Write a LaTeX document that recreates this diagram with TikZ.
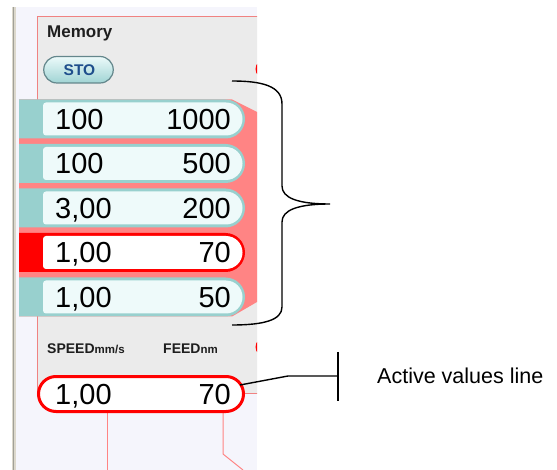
\documentclass[tikz,border=0pt]{standalone}
\usepackage{fontspec}
\setmainfont{Liberation Sans}
\definecolor{winbg}{RGB}{245,245,252}
\definecolor{framebg}{RGB}{220,216,204}
\definecolor{frameline}{RGB}{160,160,152}
\definecolor{panelgray}{RGB}{235,235,235}
\definecolor{panelborder}{RGB}{240,130,130}
\definecolor{rowpink}{RGB}{255,132,132}
\definecolor{rowteal}{RGB}{152,208,206}
\definecolor{rowinner}{RGB}{238,250,250}
\definecolor{stoblue}{RGB}{30,78,140}
\definecolor{stoborder}{RGB}{100,135,140}
\definecolor{stotop}{RGB}{236,250,250}
\definecolor{stobot}{RGB}{160,212,212}
\definecolor{hdrtext}{RGB}{30,30,30}
\begin{document}
\begin{tikzpicture}[x=1pt,y=-1pt,
  numtxt/.style={font=\fontsize{29}{29}\selectfont, inner sep=0pt, text=black},
  hdr/.style={font=\fontsize{14}{14}\selectfont\bfseries, inner sep=0pt, text=hdrtext, anchor=base west},
  ann/.style={line width=1.4pt, black},
  pinkline/.style={draw=rowpink, line width=1pt}]
\useasboundingbox (0,0) rectangle (557,470);
\fill[white] (0,0) rectangle (557,470);
% window frame
\fill[framebg] (12,7) rectangle (16,470);
\draw[frameline, line width=1pt] (13.5,7) -- (13.5,470);
\begin{scope}
\clip (16,7) rectangle (257,470);
\fill[winbg] (16,7) rectangle (257,470);
% panel
\draw[panelborder, line width=1pt, fill=panelgray] (37,17) rectangle (275,393);
% red round buttons (clipped)
\fill[red] (265,69) circle (9.5);
\fill[red] (265,347) circle (9.5);
% pink lines below
\draw[pinkline] (107,410) -- (107,470);
\draw[pinkline] (223,410) -- (223,454) -- (243,470);
\begin{scope}
\clip (19,0) rectangle (257,470);
\fill[rowpink] (0,99.5) -- (232,99.5) -- (257,112) -- (257,302) -- (232,316.5) -- (0,316.5) -- cycle;
\foreach \c/\oc/\ic in {119/rowteal/rowinner,163.5/rowteal/rowinner,208/rowteal/rowinner,252.5/red/white,297/rowteal/rowinner}{
  \fill[\oc] (10,\c-19.5) -- (225.5,\c-19.5) arc(-90:90:19.5) -- (10,\c+19.5) -- cycle;
  \fill[\ic] (46,\c-16.5) -- (226,\c-16.5) arc(-90:90:16.5) -- (46,\c+16.5) arc(90:180:3) -- (43,\c-13.5) arc(180:270:3) -- cycle;
}
\end{scope}
% row texts
\node[numtxt, anchor=base west] (r1l) at (55,129.4) {100};
\node[numtxt, anchor=base east] (r1r) at (231,129.4) {1000};
\node[numtxt, anchor=base west] (r2l) at (55,173.9) {100};
\node[numtxt, anchor=base east] (r2r) at (231,173.9) {500};
\node[numtxt, anchor=base west] (r3l) at (55,218.4) {3,00};
\node[numtxt, anchor=base east] (r3r) at (231,218.4) {200};
\node[numtxt, anchor=base west] (r4l) at (55,262.9) {1,00};
\node[numtxt, anchor=base east] (r4r) at (231,262.9) {70};
\node[numtxt, anchor=base west] (r5l) at (55,307.4) {1,00};
\node[numtxt, anchor=base east] (r5r) at (231,307.4) {50};
% title and STO
\node[font=\fontsize{17}{17}\selectfont\bfseries, inner sep=0pt, text=hdrtext, anchor=base west] (memory) at (47,37.3) {Memory};
\shade[top color=stotop, bottom color=stobot, draw=stoborder, line width=1.2pt]
  (57,56.5) -- (100,56.5) arc(-90:90:13.25) -- (57,83) arc(90:270:13.25) -- cycle;
\node[font=\fontsize{15.5}{15.5}\selectfont\bfseries, text=stoblue, inner sep=0pt] (sto) at (79.5,70) {STO};
% headers
\node[hdr] (speed) at (47,354) {SPEED{\fontsize{11.5}{11.5}\selectfont mm/s}};
\node[hdr] (feed) at (163,354) {FEED{\fontsize{11.5}{11.5}\selectfont nm}};
% active values pill
\draw[red, line width=3pt, fill=white] (56,376.5) -- (226,376.5) arc(-90:90:17.5) -- (56,411.5) arc(90:270:17.5) -- cycle;
\node[numtxt, anchor=base west] (al) at (55,404.4) {1,00};
\node[numtxt, anchor=base east] (ar) at (231,404.4) {70};
\end{scope}
% brace
\draw[ann] (232,81) .. controls (262,81) and (282,86) .. (282,104) -- (282,186)
  .. controls (282,198) and (298,204) .. (330,204)
  .. controls (298,204) and (282,210) .. (282,222) -- (282,307)
  .. controls (282,320) and (264,325) .. (232,325);
% active values annotation
\node[font=\fontsize{21.5}{21.5}\selectfont, inner sep=0pt, anchor=base west] (actlbl) at (377,383.5) {Active values line};
\coordinate (ptrA) at (240,385);
\coordinate (ptrB) at (288,376);
\coordinate (tick) at (338,376);
\draw[ann] (ptrA) -- (ptrB) -- (tick);
\draw[ann] (338,352) -- (338,401);
\end{tikzpicture}
\end{document}
